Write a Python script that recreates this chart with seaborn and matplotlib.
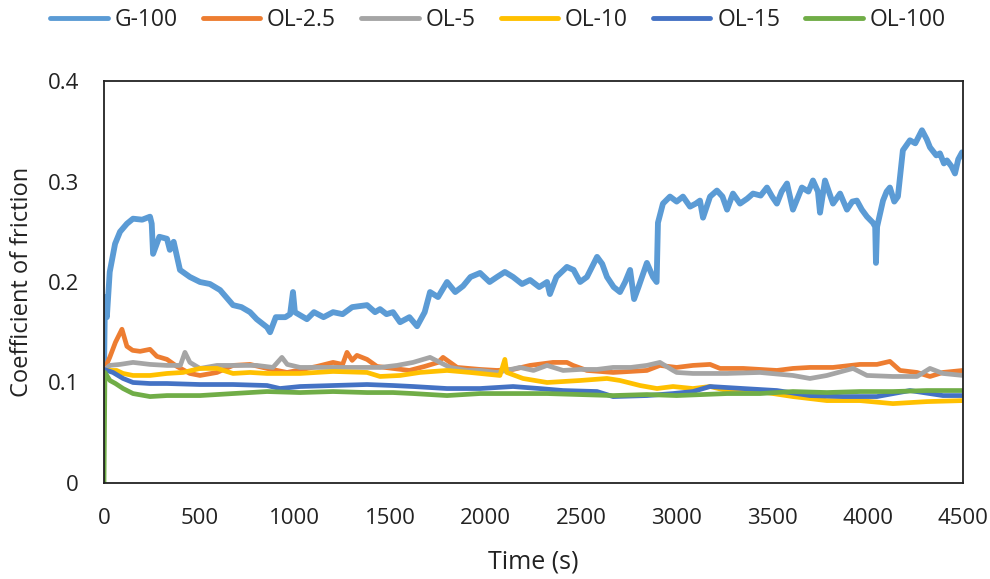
import numpy as np
import pandas as pd
import matplotlib
matplotlib.use("Agg")
import matplotlib.pyplot as plt
import seaborn as sns

series_names = ["G-100", "OL-2.5", "OL-5", "OL-10", "OL-15", "OL-100"]
colors = ["#5B9BD5", "#ED7D31", "#A5A5A5", "#FFC000", "#4472C4", "#70AD47"]

g100_t = [0, 5, 15, 30, 58, 84, 120, 152, 200, 241, 250, 257, 290, 330, 345, 365, 398, 450, 503, 555,
          608, 640, 676, 720, 765, 800, 854, 870, 900, 950, 975, 990, 1000, 1063, 1100, 1150, 1200, 1250,
          1300, 1378, 1420, 1446, 1480, 1514, 1551, 1600, 1640, 1680, 1708, 1750, 1797, 1840, 1881, 1920,
          1970, 2020, 2059, 2100, 2143, 2190, 2232, 2280, 2321, 2336, 2370, 2425, 2460, 2494, 2530, 2583,
          2610, 2635, 2670, 2703, 2730, 2756, 2777, 2800, 2844, 2876, 2895, 2902, 2928, 2965, 3000, 3033,
          3070, 3100, 3122, 3138, 3175, 3211, 3240, 3264, 3295, 3332, 3370, 3400, 3440, 3473, 3500, 3525,
          3550, 3578, 3609, 3656, 3690, 3714, 3740, 3751, 3777, 3819, 3856, 3892, 3920, 3944, 3970, 3997,
          4028, 4040, 4044, 4050, 4081, 4100, 4117, 4140, 4159, 4185, 4222, 4250, 4285, 4310, 4327, 4360,
          4379, 4400, 4416, 4440, 4458, 4475, 4495]
g100_v = [0.110, 0.185, 0.165, 0.210, 0.238, 0.250, 0.258, 0.263, 0.262, 0.265, 0.258, 0.228, 0.245, 0.243,
          0.232, 0.240, 0.212, 0.205, 0.200, 0.198, 0.192, 0.185, 0.177, 0.175, 0.170, 0.163, 0.155, 0.150,
          0.165, 0.165, 0.168, 0.190, 0.170, 0.163, 0.170, 0.165, 0.170, 0.168, 0.175, 0.177, 0.170, 0.173,
          0.168, 0.170, 0.160, 0.165, 0.156, 0.170, 0.190, 0.185, 0.200, 0.190, 0.196, 0.205, 0.209, 0.200,
          0.205, 0.210, 0.205, 0.198, 0.202, 0.195, 0.200, 0.188, 0.205, 0.215, 0.212, 0.200, 0.205, 0.225,
          0.218, 0.205, 0.195, 0.190, 0.200, 0.212, 0.183, 0.195, 0.219, 0.205, 0.200, 0.259, 0.278, 0.285,
          0.280, 0.285, 0.275, 0.278, 0.281, 0.264, 0.285, 0.291, 0.285, 0.272, 0.288, 0.278, 0.283, 0.288,
          0.286, 0.294, 0.285, 0.278, 0.290, 0.298, 0.272, 0.294, 0.290, 0.301, 0.290, 0.269, 0.301, 0.278,
          0.288, 0.272, 0.280, 0.281, 0.272, 0.265, 0.259, 0.255, 0.219, 0.255, 0.281, 0.290, 0.294, 0.280,
          0.285, 0.331, 0.341, 0.338, 0.351, 0.342, 0.334, 0.326, 0.328, 0.318, 0.321, 0.315, 0.308, 0.322,
          0.329]

ol25_t = [0, 30, 60, 94, 120, 150, 189, 241, 277, 330, 382, 450, 503, 592, 676, 765, 854, 959, 1040, 1116,
          1200, 1250, 1273, 1300, 1325, 1378, 1430, 1514, 1600, 1680, 1750, 1776, 1813, 1850, 1970, 2059,
          2143, 2232, 2352, 2425, 2457, 2530, 2667, 2844, 2912, 3000, 3085, 3175, 3227, 3348, 3525, 3609,
          3698, 3819, 3960, 4049, 4117, 4170, 4259, 4327, 4395, 4500]
ol25_v = [0.112, 0.125, 0.140, 0.153, 0.136, 0.132, 0.131, 0.133, 0.126, 0.123, 0.116, 0.109, 0.107, 0.110,
          0.117, 0.118, 0.114, 0.110, 0.113, 0.116, 0.120, 0.118, 0.130, 0.122, 0.127, 0.123, 0.116, 0.114,
          0.112, 0.116, 0.120, 0.125, 0.120, 0.115, 0.113, 0.112, 0.113, 0.117, 0.120, 0.120, 0.117, 0.112,
          0.110, 0.112, 0.117, 0.115, 0.117, 0.118, 0.114, 0.114, 0.112, 0.114, 0.115, 0.115, 0.118, 0.118,
          0.121, 0.112, 0.110, 0.106, 0.110, 0.112]

ol5_t = [0, 30, 84, 152, 241, 330, 400, 424, 450, 503, 592, 700, 800, 885, 932, 960, 1027, 1200, 1378, 1446,
         1535, 1619, 1708, 1760, 1813, 1902, 1970, 2059, 2179, 2250, 2321, 2405, 2494, 2583, 2667, 2760,
         2844, 2912, 2981, 3000, 3085, 3264, 3436, 3609, 3698, 3787, 3924, 3997, 4133, 4259, 4327, 4395, 4500]
ol5_v = [0.112, 0.117, 0.118, 0.120, 0.118, 0.117, 0.117, 0.130, 0.120, 0.114, 0.117, 0.117, 0.117, 0.115,
         0.125, 0.118, 0.115, 0.115, 0.115, 0.115, 0.117, 0.120, 0.125, 0.120, 0.115, 0.112, 0.112, 0.110,
         0.115, 0.112, 0.117, 0.112, 0.113, 0.113, 0.115, 0.115, 0.117, 0.120, 0.112, 0.110, 0.109, 0.109,
         0.110, 0.107, 0.104, 0.107, 0.114, 0.107, 0.106, 0.106, 0.114, 0.109, 0.107]

ol10_t = [0, 66, 100, 152, 241, 330, 414, 503, 592, 676, 765, 854, 1027, 1200, 1378, 1446, 1551, 1655, 1797,
          1917, 1970, 2074, 2100, 2110, 2195, 2321, 2494, 2635, 2703, 2808, 2897, 2981, 3085, 3175, 3264,
          3436, 3609, 3787, 3960, 4133, 4311, 4500]
ol10_v = [0.112, 0.112, 0.109, 0.107, 0.107, 0.109, 0.110, 0.114, 0.114, 0.109, 0.110, 0.109, 0.109, 0.111,
          0.110, 0.106, 0.107, 0.110, 0.112, 0.110, 0.109, 0.107, 0.123, 0.110, 0.104, 0.100, 0.102, 0.104,
          0.102, 0.097, 0.094, 0.096, 0.094, 0.096, 0.092, 0.091, 0.086, 0.082, 0.082, 0.079, 0.081, 0.082]

ol15_t = [0, 47, 100, 152, 241, 330, 503, 676, 854, 922, 1027, 1200, 1378, 1514, 1620, 1797, 1970, 2143,
          2280, 2405, 2583, 2667, 2844, 2981, 3085, 3175, 3348, 3525, 3698, 3871, 4049, 4222, 4395, 4500]
ol15_v = [0.113, 0.110, 0.104, 0.100, 0.099, 0.099, 0.098, 0.098, 0.097, 0.094, 0.096, 0.097, 0.098, 0.097,
          0.096, 0.094, 0.094, 0.096, 0.094, 0.092, 0.091, 0.086, 0.087, 0.089, 0.091, 0.096, 0.094, 0.092,
          0.087, 0.086, 0.086, 0.092, 0.087, 0.087]

ol100_t = [0, 5, 31, 60, 100, 152, 241, 330, 503, 676, 854, 1027, 1200, 1378, 1514, 1620, 1797, 1970, 2143,
           2321, 2494, 2667, 2844, 3000, 3264, 3436, 3609, 3787, 3960, 4133, 4311, 4500]
ol100_v = [0.000, 0.110, 0.102, 0.099, 0.094, 0.089, 0.086, 0.087, 0.087, 0.089, 0.091, 0.090, 0.091, 0.090,
           0.090, 0.089, 0.087, 0.089, 0.089, 0.089, 0.088, 0.087, 0.088, 0.087, 0.089, 0.089, 0.091, 0.090,
           0.091, 0.091, 0.092, 0.092]

x_ticks = [0, 500, 1000, 1500, 2000, 2500, 3000, 3500, 4000, 4500]
y_ticks = [0, 0.1, 0.2, 0.3, 0.4]
y_tick_labels = ["0", "0.1", "0.2", "0.3", "0.4"]

all_t = [g100_t, ol25_t, ol5_t, ol10_t, ol15_t, ol100_t]
all_v = [g100_v, ol25_v, ol5_v, ol10_v, ol15_v, ol100_v]
frames = []
for name, t, v in zip(series_names, all_t, all_v):
    frames.append(pd.DataFrame({"Time": t, "COF": v, "Sample": name}))
df = pd.concat(frames, ignore_index=True)

sns.set_theme(style="white")
plt.rcParams["font.family"] = ["Open Sans", "DejaVu Sans"]

fig = plt.figure(figsize=(9.9, 5.79), dpi=100)
ax = fig.add_axes([104 / 990, 1 - 483 / 579, (963 - 104) / 990, (483 - 81) / 579])

sns.lineplot(data=df, x="Time", y="COF", hue="Sample", hue_order=series_names,
             palette=colors, estimator=None, sort=False, linewidth=3.4, ax=ax)
ax.lines[0].set_linewidth(4.2)

ax.set_xlim(0, 4500)
ax.set_ylim(0, 0.4)
ax.set_xticks(x_ticks)
ax.set_xticklabels([str(t) for t in x_ticks])
ax.set_yticks(y_ticks)
ax.set_yticklabels(y_tick_labels)
ax.tick_params(axis="both", length=0, labelsize=16, colors="#222222")
ax.tick_params(axis="x", pad=18)
ax.tick_params(axis="y", pad=18)
for s in ax.spines.values():
    s.set_visible(True)
    s.set_color("#222222")
    s.set_linewidth(1.3)

ax.set_xlabel("Time (s)", fontsize=18, color="#222222")
ax.set_ylabel("Coefficient of friction", fontsize=17, color="#222222")
ax.xaxis.set_label_coords(0.5, (483 - 562) / 402)
ax.yaxis.set_label_coords((22 - 104) / 859, 0.5)
ax.xaxis.label.set_va("center")
ax.yaxis.label.set_va("center")

sns.move_legend(ax, "center", bbox_to_anchor=((498 - 104) / 859, (483 - 20) / 402),
                ncol=6, frameon=False, title=None, fontsize=16.5,
                handlelength=2.5, handletextpad=0.3, columnspacing=1.1, borderpad=0)
leg = ax.get_legend()
for h in leg.get_lines():
    h.set_linewidth(3.5)
for t in leg.get_texts():
    t.set_color("#222222")

fig.savefig("out.png", dpi=100)
